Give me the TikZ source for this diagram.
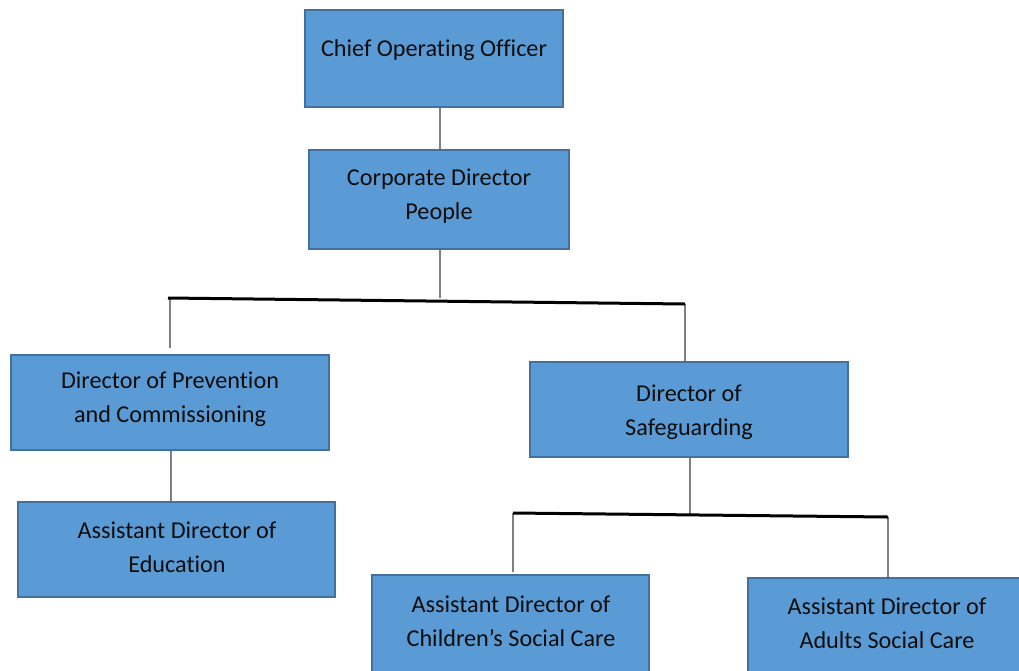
\documentclass[tikz,border=0pt]{standalone}
\usepackage{fontspec}
\setmainfont[Ligatures=NoCommon]{Carlito}
\begin{document}
\begin{tikzpicture}[x=1pt,y=-1pt,
  box/.style={draw=boxline,fill=boxfill,line width=1.6pt,inner sep=0pt},
  txt/.style={align=center,text=textc,font=\fontsize{24.2}{34}\selectfont,inner sep=0pt},
  gline/.style={draw=linegray,line width=2.8pt},
  bline/.style={draw=black,line width=3pt}]
\definecolor{boxfill}{HTML}{5B9BD5}
\definecolor{boxline}{HTML}{41719C}
\definecolor{linegray}{HTML}{808080}
\definecolor{textc}{HTML}{0D0D0D}
\clip (0,0) rectangle (1019,670);
\fill[white] (0,0) rectangle (1019,670);
% boxes
\node[box,minimum width=258,minimum height=97] (coo) at (434,58.5) {};
\node[box,minimum width=260,minimum height=99] (cdp) at (439,199.5) {};
\node[box,minimum width=318,minimum height=95] (dpc) at (170,402.5) {};
\node[box,minimum width=318,minimum height=95] (dos) at (689,409.5) {};
\node[box,minimum width=317,minimum height=95] (ade) at (176.5,549.5) {};
\node[box,minimum width=277,minimum height=110] (acs) at (510.5,630) {};
\node[box,minimum width=290,minimum height=110] (aas) at (893,633) {};
% texts
\node[txt] (tcoo) at (434,50) {Chief Operating Officer};
\node[txt] (tcdp) at (439,196) {Corporate Director\\People};
\node[txt] (tdpc) at (170,399) {Director of Prevention\\and Commissioning};
\node[txt] (tdos) at (689,412) {Director of\\Safeguarding};
\node[txt] (tade) at (177,547) {Assistant Director of\\Education};
\node[txt] (tacs) at (511,621) {Assistant Director of\\Children’s Social Care};
\node[txt] (taas) at (887,623) {Assistant Director of\\Adults Social Care};
% connector coordinates
\coordinate (j1) at (440,298);
\coordinate (j1l) at (168,298);
\coordinate (j1r) at (685,304);
\coordinate (l1) at (170,348);
\coordinate (j2) at (690,513.5);
\coordinate (j2l) at (513,513);
\coordinate (j2r) at (888,517);
\coordinate (l2) at (513,572);
% connectors
\draw[gline] (coo.south -| 440,0) -- (cdp.north -| 440,0);
\draw[gline] (cdp.south -| j1) -- (j1);
\draw[gline] (170,298) -- (l1);
\draw[gline] (j1r) -- (dos.north -| j1r);
\draw[bline] (j1l) -- (j1r);
\draw[gline] (dpc.south -| 171,0) -- (ade.north -| 171,0);
\draw[gline] (dos.south -| j2) -- (j2);
\draw[gline] (j2l) -- (l2);
\draw[gline] (j2r) -- (aas.north -| j2r);
\draw[bline] (j2l) -- (j2r);
\end{tikzpicture}
\end{document}
